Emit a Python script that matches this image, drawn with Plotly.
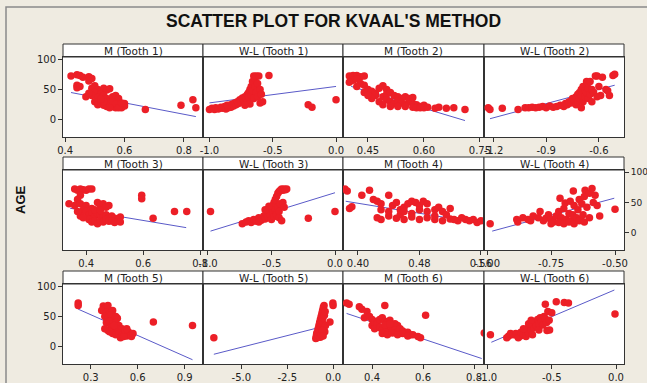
import plotly.graph_objects as go

# ---------------- data ----------------
titles = ["M (Tooth 1)", "W-L (Tooth 1)", "M (Tooth 2)", "W-L (Tooth 2)",
          "M (Tooth 3)", "W-L (Tooth 3)", "M (Tooth 4)", "W-L (Tooth 4)",
          "M (Tooth 5)", "W-L (Tooth 5)", "M (Tooth 6)", "W-L (Tooth 6)"]

m1_x = [0.42,0.44,0.45,0.46,0.44,0.44,0.45,0.48,0.49,0.48,0.47,0.49,0.50,0.51,0.50,0.52,0.53,0.54,0.55,0.52,
        0.49,0.48,0.51,0.53,0.54,0.55,0.56,0.57,0.58,0.50,0.51,0.52,0.53,0.54,0.55,0.56,0.57,0.58,0.59,0.60,
        0.60,0.56,0.57,0.58,0.59,0.53,0.55,0.52,0.67,0.79,0.83,0.84]
m1_y = [72,74,73,70,57,53,55,71,68,64,38,52,56,50,45,47,52,49,51,42,
        40,44,37,40,35,30,38,40,35,30,25,27,24,22,26,22,20,24,20,23,
        27,30,26,20,28,30,20,34,17,24,33,20]
m1_fit_x = [0.42, 0.84]
m1_fit_y = [45, 5.5]

wl1_x = [-1.00,-0.98,-0.96,-0.95,-0.93,-0.91,-0.90,-0.88,-0.87,-0.85,-0.84,-0.83,-0.82,-0.81,-0.80,-0.79,-0.78,
         -0.77,-0.76,-0.75,-0.74,-0.73,-0.72,-0.71,-0.70,-0.70,-0.69,-0.69,-0.68,-0.68,-0.67,-0.67,-0.66,-0.66,
         -0.65,-0.65,-0.64,-0.64,-0.63,-0.63,-0.62,-0.62,-0.61,-0.60,-0.59,-0.58,-0.53,-0.60,-0.72,-0.86,
         -0.22,-0.19,0.00]
wl1_y = [17,19,17,20,18,21,19,22,18,20,24,21,26,23,28,25,30,
         27,33,30,36,32,38,35,42,30,45,38,50,26,55,40,63,48,
         72,35,68,55,72,45,60,38,72,50,42,30,73,28,24,24,
         25,21,33]
wl1_fit_x = [-1.0, 0.0]
wl1_fit_y = [28, 55]

m2_x = [0.40,0.41,0.42,0.43,0.44,0.41,0.40,0.42,0.43,0.44,0.42,0.45,0.46,0.44,0.47,0.48,0.49,0.50,0.47,0.49,
        0.50,0.51,0.52,0.53,0.54,0.55,0.50,0.51,0.52,0.53,0.54,0.55,0.56,0.57,0.58,0.59,0.60,0.48,0.49,0.51,
        0.53,0.55,0.57,0.58,0.59,0.60,0.61,0.56,0.57,0.46,0.45,0.63,0.64,0.66,0.68,0.71]
m2_y = [72,73,73,71,72,65,62,67,60,57,55,50,47,45,44,52,56,50,40,38,
        42,45,40,38,35,38,33,30,27,31,28,25,30,27,25,22,24,30,25,22,
        22,22,21,20,20,20,21,35,37,35,40,19,21,19,20,17]
m2_fit_x = [0.405, 0.71]
m2_fit_y = [55, -1]

wl2_x = [-1.23,-1.22,-1.15,-1.06,-1.02,-1.00,-0.98,-0.96,-0.94,-0.92,-0.90,-0.88,-0.86,-0.84,-0.82,-0.80,-0.79,
         -0.78,-0.77,-0.76,-0.75,-0.74,-0.73,-0.73,-0.72,-0.72,-0.71,-0.71,-0.70,-0.70,-0.69,-0.69,-0.68,-0.68,
         -0.67,-0.67,-0.66,-0.66,-0.65,-0.65,-0.64,-0.64,-0.63,-0.62,-0.61,-0.60,-0.59,-0.58,-0.56,-0.55,
         -0.61,-0.70,-0.54,-0.52,-0.51]
wl2_y = [20,17,19,17,20,20,21,20,21,22,20,23,21,22,24,22,27,
         25,30,28,35,32,38,25,42,30,45,35,50,40,55,30,48,38,
         63,45,52,35,63,42,50,30,45,72,72,55,40,70,50,48,
         38,20,40,73,75]
wl2_fit_x = [-1.22, -0.51]
wl2_fit_y = [2, 57]

m3_x = [0.36,0.37,0.38,0.39,0.40,0.41,0.42,0.38,0.37,0.34,0.36,0.38,0.40,0.42,0.44,0.45,0.46,0.47,0.48,0.39,
        0.40,0.41,0.42,0.43,0.44,0.45,0.46,0.47,0.48,0.49,0.50,0.51,0.52,0.41,0.42,0.43,0.44,0.45,0.46,0.47,
        0.48,0.49,0.50,0.52,0.38,0.37,0.39,0.43,0.45,0.595,0.595,0.635,0.71,0.753]
m3_y = [72,70,72,71,70,72,72,62,55,48,45,48,45,40,50,45,48,42,45,38,
        35,30,34,28,32,30,27,30,25,28,24,22,26,22,18,20,15,20,18,22,
        19,20,17,18,28,35,25,38,37,62,56,24,35,35]
m3_fit_x = [0.344, 0.751]
m3_fit_y = [40.5, 8.7]

wl3_x = [-0.98,-0.73,-0.70,-0.68,-0.66,-0.64,-0.62,-0.60,-0.58,-0.56,-0.55,-0.54,-0.53,-0.52,-0.51,-0.50,-0.50,
         -0.49,-0.49,-0.48,-0.48,-0.47,-0.47,-0.46,-0.46,-0.45,-0.45,-0.44,-0.44,-0.43,-0.43,-0.42,-0.41,-0.40,
         -0.39,-0.38,-0.41,-0.40,-0.52,-0.55,-0.60,-0.44,-0.42,-0.21,0.00]
wl3_y = [35,15,18,20,17,22,19,25,21,28,23,32,26,36,30,40,22,
         45,33,50,27,55,38,60,30,65,42,68,35,70,48,72,70,72,
         71,72,50,42,44,38,18,25,20,24,35]
wl3_fit_x = [-0.98, 0.0]
wl3_fit_y = [3, 66]

m4_x = [0.383,0.386,0.389,0.392,0.405,0.415,0.42,0.425,0.43,0.44,0.445,0.45,0.455,0.46,0.465,0.47,0.475,0.48,
        0.485,0.49,0.455,0.46,0.47,0.48,0.49,0.50,0.505,0.51,0.425,0.43,0.44,0.45,0.46,0.47,0.48,0.49,0.50,
        0.51,0.52,0.53,0.54,0.545,0.55,0.555,0.56,0.52,0.50,0.515,0.525,0.535,0.44,0.43]
m4_y = [72,69,40,43,62,70,55,52,48,62,45,50,38,42,48,52,50,45,
        52,48,30,35,32,38,35,38,42,35,25,22,28,24,22,26,22,25,22,
        20,23,20,22,20,22,17,20,40,28,30,22,25,35,38]
m4_fit_x = [0.384, 0.53]
m4_fit_y = [52, 22]

wl4_x = [-0.988,-0.884,-0.88,-0.84,-0.83,-0.80,-0.793,-0.78,-0.77,-0.76,-0.75,-0.74,-0.73,-0.72,-0.715,-0.71,
         -0.70,-0.695,-0.69,-0.68,-0.675,-0.67,-0.665,-0.663,-0.66,-0.65,-0.645,-0.64,-0.635,-0.63,-0.625,-0.62,
         -0.617,-0.61,-0.60,-0.59,-0.585,-0.578,-0.57,-0.56,-0.75,-0.72,-0.70,-0.68,-0.66,-0.64,-0.62,-0.60,
         -0.82,-0.86,-0.50]
wl4_y = [15,22,18,22,20,25,35,20,24,30,22,18,28,35,57,25,
         40,49,22,32,52,20,30,69,45,25,38,55,22,48,30,60,
         70,42,65,73,50,62,45,28,15,17,15,18,15,20,18,25,
         28,25,39]
wl4_fit_x = [-0.98, -0.503]
wl4_fit_y = [3, 57]

m5_x = [0.22,0.22,0.38,0.39,0.40,0.41,0.37,0.40,0.42,0.44,0.39,0.41,0.43,0.45,0.46,0.47,0.40,0.42,0.44,0.46,
        0.48,0.43,0.45,0.47,0.49,0.50,0.41,0.42,0.44,0.46,0.48,0.50,0.52,0.53,0.54,0.55,0.56,0.57,0.49,0.51,
        0.52,0.53,0.45,0.39,0.70,0.95]
m5_y = [72,68,67,63,65,68,60,57,55,60,50,48,52,45,50,47,40,42,38,40,
        35,32,28,30,27,30,27,25,22,20,22,20,22,18,25,20,17,22,15,17,
        28,30,35,30,41,35]
m5_fit_x = [0.22, 0.95]
m5_fit_y = [62, -21]

wl5_x = [-6.49,-0.95,-0.92,-0.90,-0.88,-0.86,-0.84,-0.82,-0.80,-0.78,-0.76,-0.74,-0.72,-0.70,-0.68,-0.66,-0.64,
         -0.62,-0.60,-0.58,-0.56,-0.54,-0.52,-0.50,-0.48,-0.46,-0.44,-0.42,-0.70,-0.65,-0.60,-0.55,-0.18,-0.02,-0.01]
wl5_y = [15,14,18,22,15,25,20,30,18,35,28,40,22,45,33,50,38,
         55,42,60,48,65,30,68,52,25,58,35,16,20,27,18,41,72,68]
wl5_fit_x = [-6.49, -0.1]
wl5_fit_y = [-12, 37]

m6_x = [0.30,0.31,0.35,0.36,0.38,0.37,0.39,0.40,0.42,0.45,0.40,0.41,0.42,0.43,0.44,0.45,0.46,0.47,0.48,0.49,
        0.50,0.41,0.43,0.44,0.46,0.47,0.48,0.49,0.50,0.51,0.52,0.53,0.54,0.55,0.44,0.46,0.48,0.50,0.52,0.54,
        0.56,0.45,0.47,0.58,0.59,0.61,0.84]
m6_y = [72,70,66,62,58,48,50,45,42,68,35,40,38,45,48,42,40,44,36,38,
        35,30,32,28,30,34,26,28,24,30,26,22,24,20,22,20,23,20,22,18,
        20,36,38,17,15,52,23]
m6_fit_x = [0.30, 0.83]
m6_fit_y = [55, -19]

wl6_x = [-0.977,-0.835,-0.767,-0.744,-0.85,-0.82,-0.80,-0.78,-0.76,-0.74,-0.72,-0.70,-0.70,-0.69,-0.68,-0.67,
         -0.66,-0.65,-0.65,-0.64,-0.63,-0.62,-0.61,-0.60,-0.60,-0.59,-0.58,-0.57,-0.56,-0.55,-0.55,-0.54,-0.53,
         -0.52,-0.50,-0.465,-0.403,-0.37,-0.537,-0.517,-0.008,-0.72,-0.68,-0.66]
wl6_y = [20,18,18,18,15,22,20,22,15,24,20,25,17,30,22,35,
         28,38,20,32,40,35,45,38,28,48,42,36,50,46,70,40,58,
         44,56,74,73,72,27,28,54,30,38,44]
wl6_fit_x = [-0.97, -0.013]
wl6_fit_y = [7.7, 93.4]

x_ranges = [[0.393, 0.864], [-1.051, 0.055], [0.383, 0.761], [-1.254, -0.457],
            [0.319, 0.81], [-1.039, 0.063], [0.3805, 0.564], [-1.012, -0.465],
            [0.123, 1.017], [-7.08, 0.53], [0.286, 0.839], [-1.027, 0.062]]
x_tickvals = [[0.4, 0.6, 0.8], [-1.0, -0.5, 0.0], [0.45, 0.60, 0.75], [-1.2, -0.9, -0.6],
              [0.4, 0.6, 0.8], [-1.0, -0.5, 0.0], [0.40, 0.48, 0.56], [-1.0, -0.75, -0.5],
              [0.3, 0.6, 0.9], [-5.0, -2.5, 0.0], [0.4, 0.6, 0.8], [-1.0, -0.5, 0.0]]
x_ticktext = [["0.4", "0.6", "0.8"], ["-1.0", "-0.5", "0.0"], ["0.45", "0.60", "0.75"], ["-1.2", "-0.9", "-0.6"],
              ["0.4", "0.6", "0.8"], ["-1.0", "-0.5", "0.0"], ["0.40", "0.48", "0.56"], ["-1.00", "-0.75", "-0.50"],
              ["0.3", "0.6", "0.9"], ["-5.0", "-2.5", "0.0"], ["0.4", "0.6", "0.8"], ["-1.0", "-0.5", "0.0"]]
y_tickvals = [0, 50, 100]
y_range = [-28, 103.3]

xs = [m1_x, wl1_x, m2_x, wl2_x, m3_x, wl3_x, m4_x, wl4_x, m5_x, wl5_x, m6_x, wl6_x]
ys = [m1_y, wl1_y, m2_y, wl2_y, m3_y, wl3_y, m4_y, wl4_y, m5_y, wl5_y, m6_y, wl6_y]
fxs = [m1_fit_x, wl1_fit_x, m2_fit_x, wl2_fit_x, m3_fit_x, wl3_fit_x, m4_fit_x, wl4_fit_x,
       m5_fit_x, wl5_fit_x, m6_fit_x, wl6_fit_x]
fys = [m1_fit_y, wl1_fit_y, m2_fit_y, wl2_fit_y, m3_fit_y, wl3_fit_y, m4_fit_y, wl4_fit_y,
       m5_fit_y, wl5_fit_y, m6_fit_y, wl6_fit_y]

# ---------------- layout geometry (pixels) ----------------
W, H = 647, 383
cols = [(63, 203), (203, 343), (343, 484), (484, 624)]
rows = [(57, 137), (170, 250), (284, 364)]
strips = [(44, 57), (157, 170), (271, 284)]

def px(x):
    return x / W

def py(y):
    return 1 - y / H

BG = "#EFEBE1"
RED = "#EC1F27"
BLUE = "#5A5AC8"
AX = "#333333"
FONT = "DejaVu Sans"

fig = go.Figure()
layout = {}
shapes = []
annotations = []

for i in range(12):
    r, c = divmod(i, 4)
    n = i + 1
    xa = "x" if n == 1 else f"x{n}"
    ya = "y" if n == 1 else f"y{n}"
    fig.add_trace(go.Scatter(x=fxs[i], y=fys[i], mode="lines", xaxis=xa, yaxis=ya,
                             line=dict(color=BLUE, width=1), showlegend=False, hoverinfo="skip"))
    fig.add_trace(go.Scatter(x=xs[i], y=ys[i], mode="markers", xaxis=xa, yaxis=ya,
                             marker=dict(color=RED, size=7.5, line=dict(width=0)), showlegend=False))
    x0, x1 = cols[c]
    y0, y1 = rows[r]
    layout[f"xaxis{n}" if n > 1 else "xaxis"] = dict(
        domain=[px(x0), px(x1)], range=x_ranges[i], anchor=ya, automargin=False,
        tickvals=x_tickvals[i], ticktext=x_ticktext[i], ticks="outside", ticklen=4,
        tickcolor=AX, showline=True, mirror=True, linecolor=AX, linewidth=1,
        showgrid=False, zeroline=False, tickfont=dict(family=FONT, size=10, color="#222"),
    )
    show_y = (r in (0, 2) and c == 0) or (r == 1 and c == 3)
    yax = dict(domain=[py(y1), py(y0)], range=y_range, anchor=xa, automargin=False,
               showline=True, mirror=True, linecolor=AX, linewidth=1,
               showgrid=False, zeroline=False)
    if show_y:
        yax.update(tickvals=y_tickvals, ticks="outside", ticklen=4, tickcolor=AX,
                   side="right" if r == 1 else "left",
                   tickfont=dict(family=FONT, size=9 if r == 1 else 10, color="#222"))
    else:
        yax.update(showticklabels=False, ticks="")
    layout[f"yaxis{n}" if n > 1 else "yaxis"] = yax

    s0, s1 = strips[r]
    shapes.append(dict(type="rect", xref="paper", yref="paper",
                       x0=px(x0), x1=px(x1), y0=py(s1), y1=py(s0),
                       fillcolor="white", line=dict(color=AX, width=1), layer="below"))
    annotations.append(dict(xref="paper", yref="paper", x=px((x0 + x1) / 2), y=py((s0 + s1) / 2),
                            text=titles[i], showarrow=False, xanchor="center", yanchor="middle",
                            font=dict(family=FONT, size=10.5, color="#222")))

# outer frame
shapes.append(dict(type="rect", xref="paper", yref="paper", x0=px(6), x1=px(700), y0=py(420), y1=py(7),
                   line=dict(color="#8A8A8A", width=1.5), fillcolor="rgba(0,0,0,0)", layer="below"))

annotations.append(dict(xref="paper", yref="paper", x=px(333), y=py(21),
                        text="<b>SCATTER PLOT FOR KVAAL'S METHOD</b>", showarrow=False,
                        xanchor="center", yanchor="middle",
                        font=dict(family="Liberation Sans", size=17.5, color="#111")))
annotations.append(dict(xref="paper", yref="paper", x=px(20), y=py(200),
                        text="<b>AGE</b>", showarrow=False, textangle=-90,
                        xanchor="center", yanchor="middle",
                        font=dict(family="Liberation Sans", size=13, color="#111")))

fig.update_layout(width=W, height=H, margin=dict(l=0, r=0, t=0, b=0, pad=0, autoexpand=False),
                  paper_bgcolor=BG, plot_bgcolor="white",
                  shapes=shapes, annotations=annotations, **layout)
fig.write_html("out.html", config={"displayModeBar": False},
               post_script="document.body.style.margin='0';document.body.style.padding='0';"
                           "document.body.style.overflow='hidden';")
